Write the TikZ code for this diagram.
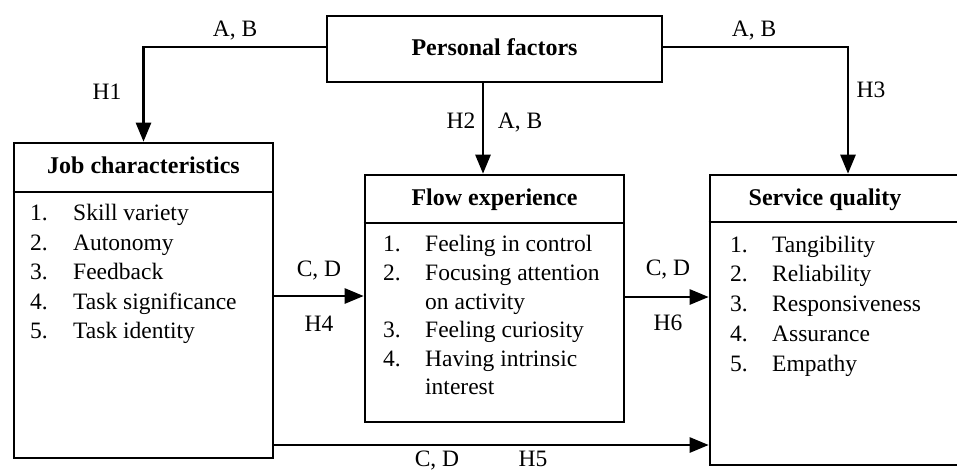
\documentclass[tikz,border=0pt]{standalone}
\usepackage{fontspec}
\setmainfont{Liberation Serif}
\usetikzlibrary{arrows.meta}
\begin{document}
\begin{tikzpicture}[x=1pt,y=-1pt,
  every node/.style={font=\fontsize{23.5}{28}\selectfont, inner sep=0pt},
  frame/.style={draw, line width=2.6pt, rectangle, inner sep=0pt},
  head/.style={font=\fontsize{24}{28}\selectfont\bfseries, anchor=base},
  lbl/.style={anchor=base},
  item/.style={anchor=base west},
  rule/.style={line width=2.6pt},
  arr/.style={line width=2.6pt, -{Triangle[length=19pt,width=15pt]}}]
\useasboundingbox (0,0) rectangle (957,471);

% boxes
\node[frame, minimum width=335pt, minimum height=66pt] (pf) at (494.5,49) {};
\node[frame, minimum width=259pt, minimum height=315pt] (jc) at (143.5,300.5) {};
\node[frame, minimum width=259pt, minimum height=247pt] (fe) at (494.5,298.5) {};
\node[frame, minimum width=260pt, minimum height=290pt] (sq) at (840,320) {};

% header separators
\draw[rule] (jc.west |- 0,192) -- (jc.east |- 0,192);
\draw[rule] (fe.west |- 0,223) -- (fe.east |- 0,223);
\draw[rule] (sq.west |- 0,222) -- (sq.east |- 0,222);

% headers
\node[head] (pft) at (494.5,55) {Personal factors};
\node[head] (jct) at (143.5,173) {Job characteristics};
\node[head] (fet) at (494.5,205) {Flow experience};
\node[head] (sqt) at (825,205) {Service quality};

% job characteristics items
\foreach \n/\t [count=\i from 0] in {1./Skill variety,2./Autonomy,3./Feedback,4./Task significance,5./Task identity}{
  \node[item] (jcn\i) at (30,220.5+29.5*\i) {\n};
  \node[item] (jci\i) at (73,220.5+29.5*\i) {\t};
}

% flow experience items
\node[item] (fen1) at (383,251) {1.};
\node[item] (fei1) at (425,251) {Feeling in control};
\node[item] (fen2) at (383,280) {2.};
\node[item] (fei2) at (425,280) {Focusing attention};
\node[item] (fei2b) at (425,309) {on activity};
\node[item] (fen3) at (383,337.5) {3.};
\node[item] (fei3) at (425,337.5) {Feeling curiosity};
\node[item] (fen4) at (383,366) {4.};
\node[item] (fei4) at (425,366) {Having intrinsic};
\node[item] (fei4b) at (425,394.5) {interest};

% service quality items
\foreach \n/\t [count=\i from 0] in {1./Tangibility,2./Reliability,3./Responsiveness,4./Assurance,5./Empathy}{
  \node[item] (sqn\i) at (730,252+29.8*\i) {\n};
  \node[item] (sqi\i) at (772,252+29.8*\i) {\t};
}

% connector positions
\coordinate (h2x) at (483,0);
\coordinate (h3x) at (848,0);
\coordinate (h4y) at (0,296);
\coordinate (h6y) at (0,297);
\coordinate (h5y) at (0,445);

% connectors
\draw[arr] ([yshift=2pt]pf.west) -| (jc.north);
\draw[arr] (h2x |- pf.south) -- (h2x |- fe.north);
\draw[arr] ([yshift=2pt]pf.east) -| (h3x |- sq.north);
\draw[arr] (jc.east |- h4y) -- (fe.west |- h4y);
\draw[arr] (fe.east |- h6y) -- (sq.west |- h6y);
\draw[arr] (jc.east |- h5y) -- (sq.west |- h5y);

% connector labels
\node[lbl] (l1) at (235,36) {A, B};
\node[lbl] (l2) at (107,99) {H1};
\node[lbl] (l3) at (461,128) {H2};
\node[lbl] (l4) at (520,128) {A, B};
\node[lbl] (l5) at (754,36) {A, B};
\node[lbl] (l6) at (871,97) {H3};
\node[lbl] (l7) at (319,276) {C, D};
\node[lbl] (l8) at (319,331) {H4};
\node[lbl] (l9) at (668,275) {C, D};
\node[lbl] (l10) at (668,330) {H6};
\node[lbl] (l11) at (437,466) {C, D};
\node[lbl] (l12) at (533,466) {H5};
\end{tikzpicture}
\end{document}
